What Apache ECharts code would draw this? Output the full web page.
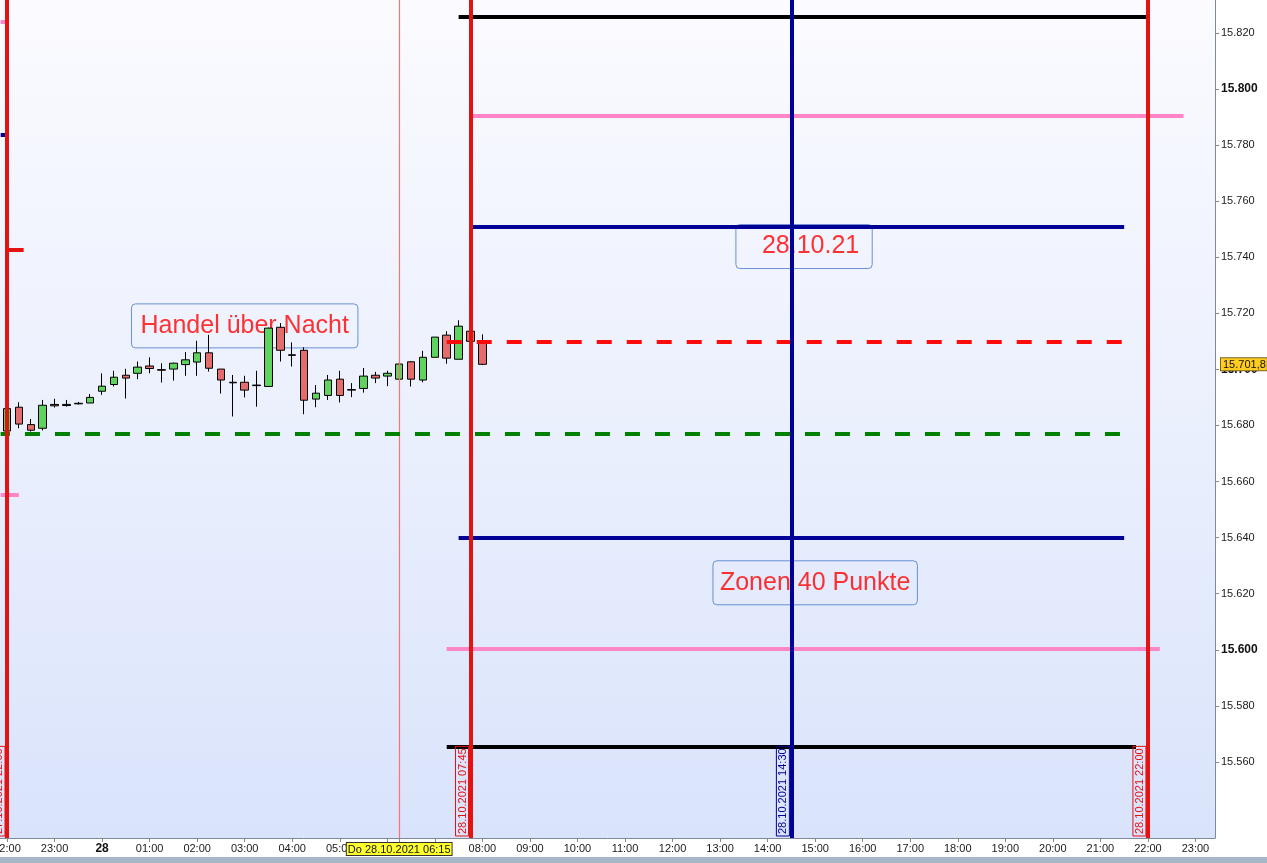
<!DOCTYPE html>
<html>
<head>
<meta charset="utf-8">
<script src="https://cdn.jsdelivr.net/npm/echarts@6/dist/echarts.min.js"></script>
<style>
html,body{margin:0;padding:0;background:#ffffff;}
#chart{width:1267px;height:863px;}
</style>
</head>
<body>
<div id="chart"></div>
<script>
// ---------- DATA ----------
const candleTimes = ['22:00','22:15','22:30','22:45','23:00','23:15','23:30','23:45',
  '00:00','00:15','00:30','00:45','01:00','01:15','01:30','01:45',
  '02:00','02:15','02:30','02:45','03:00','03:15','03:30','03:45',
  '04:00','04:15','04:30','04:45','05:00','05:15','05:30','05:45',
  '06:00','06:15','06:30','06:45','07:00','07:15','07:30','07:45','08:00'];
const opens  = [15678.0,15686.5,15680.3,15679.0,15687.5,15687.1,15687.9,15688.0,
  15692.2,15694.6,15697.9,15698.6,15701.2,15699.9,15700.1,15701.7,
  15702.6,15705.9,15700.1,15695.4,15695.4,15694.4,15693.9,15715.0,
  15705.2,15706.8,15689.4,15690.7,15696.5,15692.8,15693.2,15697.9,
  15697.6,15696.5,15702.7,15696.2,15704.3,15712.2,15703.6,15713.6,15710.0];
const closes = [15686.0,15680.5,15678.3,15687.2,15687.0,15687.5,15687.7,15690.0,
  15694.0,15697.2,15696.9,15700.8,15700.3,15699.7,15702.2,15703.4,
  15705.9,15700.4,15696.2,15695.2,15692.6,15694.2,15714.7,15706.8,
  15705.0,15689.0,15691.5,15696.2,15690.7,15692.6,15697.6,15696.9,
  15698.6,15701.9,15696.5,15704.3,15711.5,15704.0,15715.4,15710.0,15701.8];
const lows   = [15677.5,15679.0,15677.8,15678.2,15686.4,15686.7,15687.5,15688.0,
  15690.9,15693.9,15689.6,15696.5,15698.6,15695.3,15696.0,15697.7,
  15697.7,15699.2,15691.4,15683.2,15690.0,15686.7,15693.9,15702.8,
  15701.0,15684.0,15686.5,15689.1,15688.2,15690.1,15691.7,15695.1,
  15694.0,15696.5,15693.9,15695.4,15704.3,15702.0,15703.6,15710.0,15701.5];
const highs  = [15686.5,15688.3,15682.3,15689.1,15689.5,15689.1,15688.4,15691.2,
  15698.6,15699.5,15700.2,15702.8,15704.3,15702.2,15702.4,15706.2,
  15710.2,15712.3,15700.1,15698.0,15697.7,15699.5,15714.9,15716.5,
  15709.6,15707.9,15694.4,15698.0,15699.5,15695.1,15700.5,15699.1,
  15699.5,15702.0,15702.9,15706.6,15711.5,15713.6,15717.5,15713.6,15712.5];

const xTickHours = [-2,-1,0,1,2,3,4,5,6,7,8,9,10,11,12,13,14,15,16,17,18,19,20,21,22,23];
const hiddenTickLabels = [6,7];
const yTicks = [15560,15580,15600,15620,15640,15660,15680,15700,15720,15740,15760,15780,15800,15820];
const lastPrice = 15701.8;
const cursorTime = '2021-10-28 06:15';

const vLineTimes = ['2021-10-27 22:00','2021-10-28 07:45','2021-10-28 14:30','2021-10-28 22:00'];
const vLineKinds = ['session','session','event','session'];

const zoneLevels = [15825.6,15790.4,15750.8,15710.0,15677.0,15639.8,15600.5,15565.5];
const zoneStarts = ['2021-10-28 07:30','2021-10-28 07:45','2021-10-28 07:45','2021-10-28 07:15',
  '2021-10-27 21:52','2021-10-28 07:30','2021-10-28 07:15','2021-10-28 07:15'];
const zoneEnds   = ['2021-10-28 22:00','2021-10-28 22:45','2021-10-28 21:30','2021-10-28 21:30',
  '2021-10-28 21:25','2021-10-28 21:30','2021-10-28 22:15','2021-10-28 21:45'];
const zoneKinds  = ['outer','pink','blue','closeDash','openDash','blue','pink','outer'];

const prevLevels = [15824.0,15783.6,15742.6,15655.3];
const prevStarts = ['2021-10-27 21:52','2021-10-27 21:52','2021-10-27 22:00','2021-10-27 21:52'];
const prevEnds   = ['2021-10-27 22:00','2021-10-27 22:00','2021-10-27 22:21','2021-10-27 22:15'];
const prevKinds  = ['pink','blue','red','pink'];

const noteTexts  = ['Handel über Nacht','28.10.21','Zonen 40 Punkte'];
const noteTimes  = ['2021-10-28 03:00','2021-10-28 14:46','2021-10-28 15:00'];
const notePrices = [15715.5,15743.8,15623.9];

// ---------- HELPERS ----------
const FONT = 'Liberation Sans, Arial, sans-serif';
function toH(s){
  const [d,t] = s.split(' ');
  const [Y,M,D] = d.split('-').map(Number);
  const [h,m] = t.split(':').map(Number);
  return (Date.UTC(Y,M-1,D,h,m) - Date.UTC(2021,9,28,0,0)) / 3600000;
}
function candleH(t){
  const hh = parseInt(t.slice(0,2),10);
  return toH((hh >= 12 ? '2021-10-27 ' : '2021-10-28 ') + t);
}
function tagText(s){
  const [d,t] = s.split(' ');
  const [Y,M,D] = d.split('-');
  return D + '.' + M + '.' + Y + ' ' + t;
}
function fmtPrice(v){
  const s = String(Math.round(v));
  return s.slice(0,-3) + '.' + s.slice(-3);
}
function fmtPriceDec(v){
  const i = Math.floor(v);
  const dec = Math.round((v - i) * 10);
  return fmtPrice(i) + ',' + dec;
}

const styles = {
  outer:    {color:'#000000', width:4, type:'solid'},
  pink:     {color:'#ff85c6', width:4, type:'solid'},
  blue:     {color:'#000096', width:4, type:'solid'},
  red:      {color:'#e51212', width:4, type:'solid'},
  closeDash:{color:'#ff0a0a', width:4, type:[15,15], dashOffset:0},
  openDash: {color:'#008000', width:4, type:[15,15], dashOffset:5.7},
  session:  {color:'#e51212', width:4, type:'solid'},
  event:    {color:'#000096', width:4, type:'solid'},
  cursor:   {color:'#ff7070', width:1.2, type:'solid'}
};
const notePadding = [[8,9,8,9],[8,13,8,26],[8,7,8,7]];

const candleData = candleTimes.map((t,i)=>[candleH(t), opens[i], closes[i], lows[i], highs[i]]);

const segData = [];
zoneLevels.forEach((y,i)=>{
  const st = styles[zoneKinds[i]];
  segData.push([{coord:[toH(zoneStarts[i]), y], lineStyle:{color:st.color,width:st.width,type:st.type,dashOffset:st.dashOffset||0}},
                {coord:[toH(zoneEnds[i]), y]}]);
});
prevLevels.forEach((y,i)=>{
  const st = styles[prevKinds[i]];
  segData.push([{coord:[toH(prevStarts[i]), y], lineStyle:{color:st.color,width:st.width,type:st.type}},
                {coord:[toH(prevEnds[i]), y]}]);
});

const vData = vLineTimes.map((t,i)=>{
  const st = styles[vLineKinds[i]];
  return {
    xAxis: toH(t),
    lineStyle:{color:st.color,width:st.width,type:'solid'},
    label:{
      show:true, position:'insideStartTop', formatter: tagText(t),
      color: st.color, fontSize:11, fontFamily:FONT, lineHeight:12,
      borderColor: st.color, borderWidth:1, padding:[1,2,0,2], distance:2
    }
  };
});
const cursorData = [{xAxis: toH(cursorTime),
  lineStyle:{color:styles.cursor.color,width:styles.cursor.width,type:'solid'}, label:{show:false}}];

const xMin = -2.1472, xMax = 23.411;
const yMin = 15532.9, yMax = 15831.7;

const xLabelValues = xTickHours.filter(v=>hiddenTickLabels.indexOf(v)<0).concat([toH(cursorTime)]);
const xTickValues = xTickHours.concat([toH(cursorTime)]);
const yLabelValues = yTicks.concat([lastPrice]);

const chart = echarts.init(document.getElementById('chart'), null, {renderer:'canvas'});
chart.setOption({
  animation:false,
  backgroundColor:'#ffffff',
  textStyle:{fontFamily:FONT},
  grid:{
    left:0, top:0, right:52, bottom:25, show:true, borderWidth:0,
    containLabel:false, outerBoundsMode:'none',
    backgroundColor:new echarts.graphic.LinearGradient(0,0,0,1,[
      {offset:0,color:'#fbfbff'},{offset:0.5,color:'#ebf0fd'},{offset:1,color:'#d9e3fb'}])
  },
  xAxis:{
    type:'value', min:xMin, max:xMax,
    splitLine:{show:false},
    axisLine:{show:true,onZero:false,lineStyle:{color:'#7d8a98',width:1}},
    axisTick:{show:true,length:4,lineStyle:{color:'#7d8a98'},customValues:xTickValues},
    axisLabel:{
      customValues:xLabelValues, margin:5, fontSize:11, color:'#1a1a1a', fontFamily:FONT,
      formatter:function(v){
        if (Math.abs(v - toH(cursorTime)) < 1e-6) return '{y|Do ' + tagText(cursorTime) + '}';
        if (Math.abs(v) < 1e-6) return '{b|28}';
        const h = ((Math.round(v) % 24) + 24) % 24;
        return (h<10?'0':'') + h + ':00';
      },
      rich:{
        b:{fontWeight:'bold',fontSize:12,color:'#111',fontFamily:FONT},
        y:{backgroundColor:'#ffff2e',borderColor:'#333',borderWidth:1,padding:[1,1,0,1],fontSize:11,color:'#111',fontFamily:FONT}
      }
    }
  },
  yAxis:{
    type:'value', position:'right', min:yMin, max:yMax,
    splitLine:{show:false},
    axisLine:{show:true,onZero:false,lineStyle:{color:'#7d8a98',width:1}},
    axisTick:{show:true,length:4,inside:false,lineStyle:{color:'#7d8a98'},customValues:yTicks},
    axisLabel:{
      customValues:yLabelValues, margin:6, fontSize:11, color:'#1a1a1a', fontFamily:FONT, align:'left',
      formatter:function(v){
        if (Math.abs(v - lastPrice) < 1e-6) return '{y|' + fmtPriceDec(v) + '}';
        if (Math.round(v) % 100 === 0) return '{b|' + fmtPrice(v) + '}';
        return fmtPrice(v);
      },
      rich:{
        b:{fontWeight:'bold',fontSize:12,color:'#111',fontFamily:FONT},
        y:{backgroundColor:'#ffcc1f',borderColor:'#7a6420',borderWidth:1,padding:[1,1,0,2],fontSize:11,color:'#111',fontFamily:FONT}
      }
    }
  },
  graphic:[
    {type:'rect', left:0, bottom:0, shape:{width:1267,height:6}, style:{fill:'#a6b6c6'}, z:100}
  ],
  series:[
    {
      type:'scatter', name:'notes', z:1, symbolSize:1, silent:true,
      itemStyle:{color:'rgba(0,0,0,0)'},
      data: noteTexts.map((t,i)=>({value:[toH(noteTimes[i]), notePrices[i]], name:t, label:{padding:notePadding[i]}})),
      label:{
        show:true, position:'inside', formatter:function(p){return p.name;},
        fontSize:25, fontFamily:FONT, color:'#ff0000', lineHeight:28,
        borderColor:'#4a78c8', borderWidth:1, borderRadius:4
      }
    },
    {
      type:'candlestick', name:'FDAX', z:3, barWidth:8,
      itemStyle:{color:'#5ed35e', color0:'#e46c6c', borderColor:'#000', borderColor0:'#000', borderWidth:1},
      data: candleData
    },
    {
      type:'line', name:'levels', z:5, data:[], silent:true,
      markLine:{silent:true, symbol:['none','none'], animation:false,
        label:{show:false},
        data: cursorData.concat(segData).concat(vData)}
    }
  ]
});
</script>
</body>
</html>
